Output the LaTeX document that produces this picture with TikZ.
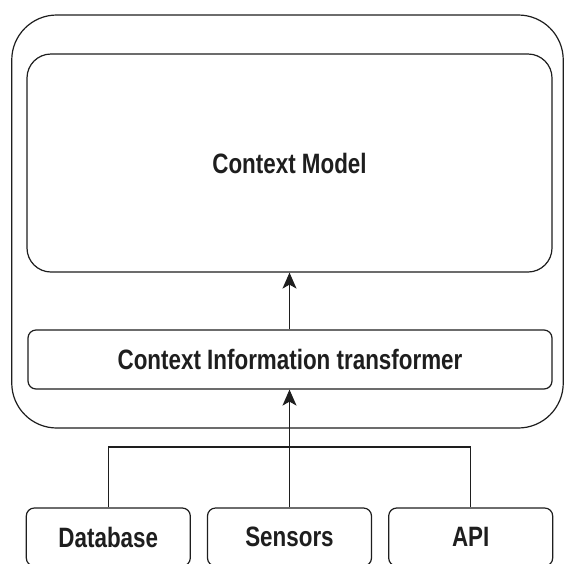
\documentclass[tikz,border=0pt]{standalone}
\usepackage{fontspec}
\setmainfont{Liberation Sans}[FakeStretch=0.8]
\usetikzlibrary{arrows.meta,positioning}
\definecolor{Ink}{RGB}{30,30,30}
\tikzset{
  box/.style={draw=Ink, line width=1.2pt, fill=white, text=Ink, inner sep=0pt,
    font=\fontsize{28}{32}\selectfont\bfseries, align=center},
  srcbox/.style={box, rounded corners=8pt, minimum width=164pt, minimum height=58pt},
  link/.style={draw=Ink, line width=1.2pt},
  uparr/.style={link, -{Stealth[length=16pt, width=14pt, inset=4pt]}},
}

\begin{document}
\begin{tikzpicture}[x=1pt, y=-1pt]
  \clip (0,0) rectangle (564,563);
  \useasboundingbox (0,0) rectangle (564,563);
  % outer frame and inner blocks
  \node[box, rounded corners=45pt, minimum width=551.5pt, minimum height=413pt] (frame) at (287.5,221.5) {};
  \node[box, rounded corners=24pt, minimum width=525pt, minimum height=218pt] (model) at (289.5,163) {Context Model};
  \node[box, rounded corners=8pt, minimum width=524pt, minimum height=59pt] (trans) at (290,359.5) {Context Information transformer};
  % sources
  \node[srcbox] (sens) at (289.5,537) {Sensors};
  \node[srcbox, left=16pt of sens] (db) {Database};
  \node[srcbox, right=16pt of sens] (api) {API};
  \coordinate (join) at (289.5,447);
  \draw[link] (db.north) |- (join) -| (api.north);
  \draw[uparr] (sens.north) -- (sens.north |- trans.south);
  \draw[uparr] (trans.north -| sens.north) -- (sens.north |- model.south);
\end{tikzpicture}
\end{document}
